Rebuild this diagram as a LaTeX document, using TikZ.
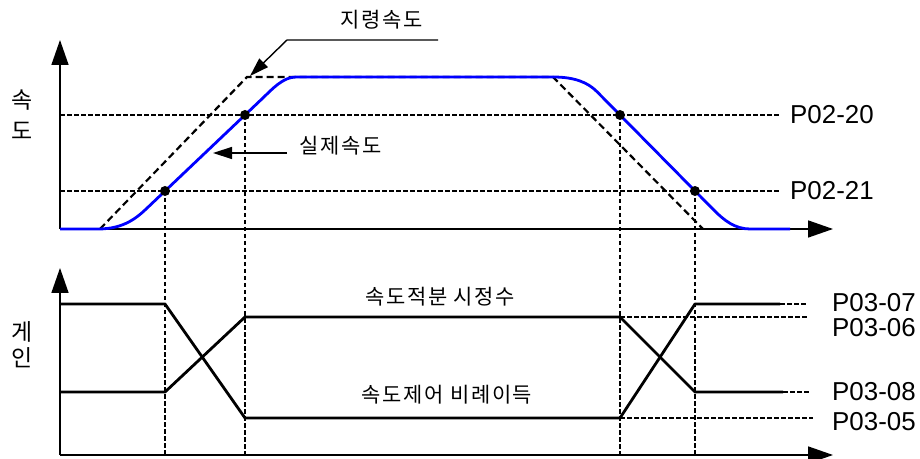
\documentclass[tikz,border=0pt]{standalone}
\usepackage{fontspec}
\setmainfont{Liberation Sans}
\newfontfamily\kr[LetterSpace=8]{Noto Sans CJK KR}
\usetikzlibrary{arrows.meta}
\begin{document}
\begin{tikzpicture}[x=1bp,y=-1bp,
  axis/.style={line width=1.6bp,-{Triangle[width=17bp,length=25bp]}},
  guide/.style={line width=1.1bp,dash pattern=on 4.5bp off 2.5bp},
  cmd/.style={line width=2.2bp,dash pattern=on 7bp off 4bp},
  actual/.style={blue,line width=2.8bp},
  gain/.style={line width=2.8bp},
  leader/.style={line width=1.4bp,-{Triangle[width=12bp,length=19bp]}},
  dot/.style={circle,fill,inner sep=0pt,minimum size=10bp},
  plab/.style={anchor=west,font=\fontsize{26}{26}\selectfont,inner sep=0pt},
  klab/.style={font=\kr\fontsize{21}{21}\selectfont,inner sep=0pt},
  vlab/.style={font=\kr\fontsize{23}{23}\selectfont,inner sep=0pt}
]
\useasboundingbox (0,0) rectangle (920,459);
% axes
\coordinate (O1) at (60,229); \coordinate (Y1) at (60,40); \coordinate (X1) at (833,229);
\coordinate (O2) at (60,455); \coordinate (Y2) at (60,268); \coordinate (X2) at (833,455);
\draw[axis] (O1) -- (Y1);
\draw[axis] (O1) -- (X1);
\draw[axis] (O2) -- (Y2);
\draw[axis] (O2) -- (X2);
% axis labels
\node[vlab] (vs1) at (22,100) {속};
\node[vlab] (vs2) at (22,131) {도};
\node[vlab] (vg1) at (22,332) {게};
\node[vlab] (vg2) at (22,358) {인};
% threshold guides
\node[plab] (p20) at (790,115) {P02-20};
\node[plab] (p21) at (790,191) {P02-21};
\coordinate (h20) at (60,115); \coordinate (h20e) at (780,115);
\coordinate (h21) at (60,191); \coordinate (h21e) at (780,191);
\draw[guide] (h20) -- (h20e);
\draw[guide] (h21) -- (h21e);
% command speed
\coordinate (c0) at (100,229); \coordinate (c1) at (247,77);
\coordinate (c2) at (553,77); \coordinate (c3) at (703,229);
\draw[cmd] (c0) -- (c1) -- (c2) -- (c3);
% actual speed
\draw[actual] (60,229) -- (98,229) .. controls (125,229) and (138,216.7) .. (148,207.2)
  -- (263,97.9) .. controls (272,89.3) and (283,77) .. (296,77)
  -- (553,77) .. controls (575,77) and (588,82.6) .. (597,91.7)
  -- (714,210.2) .. controls (724,220.3) and (735,229) .. (750,229) -- (790,229);
% dots and vertical guides
\node[dot] (d1) at (165,191) {};
\node[dot] (d2) at (245,115) {};
\node[dot] (d3) at (620,115) {};
\node[dot] (d4) at (695,191) {};
\draw[guide] (d1.center) -- (d1 |- O2);
\draw[guide] (d2.center) -- (d2 |- O2);
\draw[guide] (d3.center) -- (d3 |- O2);
\draw[guide] (d4.center) -- (d4 |- O2);
% leaders
\node[klab] (cmdlab) at (382,20) {지령속도};
\coordinate (k1) at (438,40); \coordinate (k2) at (287,40); \coordinate (ktip) at (250,76);
\draw[leader] (k1) -- (k2) -- (ktip);
\node[klab] (actlab) at (341,146) {실제속도};
\coordinate (a1) at (287,153); \coordinate (atip) at (213,153);
\draw[leader] (a1) -- (atip);
% gains
\coordinate (gA0) at (60,304); \coordinate (gA1) at (165,304); \coordinate (gA2) at (245,418);
\coordinate (gA3) at (620,418); \coordinate (gA4) at (695,304); \coordinate (gA5) at (780,304);
\coordinate (gA6) at (807,304);
\coordinate (gB0) at (60,392); \coordinate (gB1) at (165,392); \coordinate (gB2) at (245,317);
\coordinate (gB3) at (620,317); \coordinate (gB4) at (695,392); \coordinate (gB5) at (783,392);
\coordinate (gB6) at (810,392);
\coordinate (g06) at (807,317); \coordinate (g05) at (813,418);
\draw[guide] (gB3) -- (g06);
\draw[guide] (gA3) -- (g05);
\draw[guide] (gA5) -- (gA6);
\draw[guide] (gB5) -- (gB6);
\draw[gain,line join=round] (gA0) -- (gA1) -- (gA2) -- (gA3) -- (gA4) -- (gA5);
\draw[gain,line join=round] (gB0) -- (gB1) -- (gB2) -- (gB3) -- (gB4) -- (gB5);
\node[klab] (ilab) at (440,297) {속도적분 시정수};
\node[klab] (plab2) at (447,395) {속도제어 비례이득};
\node[plab] (p07) at (832,303) {P03-07};
\node[plab] (p06) at (832,328) {P03-06};
\node[plab] (p08) at (832,392) {P03-08};
\node[plab] (p05) at (832,422) {P03-05};
\end{tikzpicture}
\end{document}
